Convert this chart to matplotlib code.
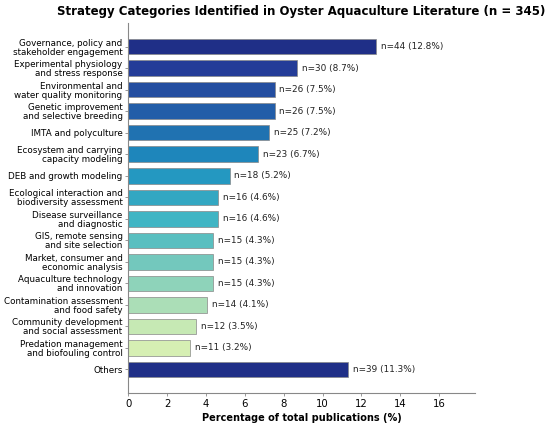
import matplotlib
matplotlib.use("Agg")
import matplotlib.pyplot as plt
import numpy as np

categories = [
    "Governance, policy and\nstakeholder engagement",
    "Experimental physiology\nand stress response",
    "Environmental and\nwater quality monitoring",
    "Genetic improvement\nand selective breeding",
    "IMTA and polyculture",
    "Ecosystem and carrying\ncapacity modeling",
    "DEB and growth modeling",
    "Ecological interaction and\nbiodiversity assessment",
    "Disease surveillance\nand diagnostic",
    "GIS, remote sensing\nand site selection",
    "Market, consumer and\neconomic analysis",
    "Aquaculture technology\nand innovation",
    "Contamination assessment\nand food safety",
    "Community development\nand social assessment",
    "Predation management\nand biofouling control",
    "Others",
]
counts = [44, 30, 26, 26, 25, 23, 18, 16, 16, 15, 15, 15, 14, 12, 11, 39]
total = 345

pct = np.array(counts) / total * 100

cmap = plt.get_cmap("YlGnBu")
colors = [cmap(v) for v in np.linspace(0.9, 0.2, len(categories) - 1)]
colors.append(cmap(0.9))

fig = plt.figure(figsize=(5.5, 4.25), dpi=100)
ax = fig.add_axes([0.233, 0.075, 0.631, 0.871])

y = np.arange(len(categories))
ax.barh(y, pct, height=0.72, color=colors, edgecolor="#888888", linewidth=0.5)
for yi, c, p in zip(y, counts, pct):
    ax.text(p + 0.25, yi, f"n={c} ({p:.1f}%)", va="center", ha="left", fontsize=6.4, color="#222222")

ax.set_yticks(y)
ax.set_yticklabels(categories, fontsize=6.3, linespacing=1.0)
ax.set_ylim(len(categories) - 1 + 1.1, -1.1)
ax.set_xlim(0, pct.max() * 1.4)
ax.set_xticks(np.arange(0, 17, 2))
ax.tick_params(axis="x", labelsize=7.3, length=2.5, width=0.6, color="#888888", pad=1.5)
ax.tick_params(axis="y", length=2.5, width=0.6, color="#888888", pad=1.5)
ax.set_xlabel("Percentage of total publications (%)", fontsize=7, fontweight="bold", labelpad=3)
ax.set_title("Strategy Categories Identified in Oyster Aquaculture Literature (n = 345)",
             fontsize=8.5, fontweight="bold", pad=6)
for s in ["top", "right"]:
    ax.spines[s].set_visible(False)
for s in ["left", "bottom"]:
    ax.spines[s].set_color("#888888")
    ax.spines[s].set_linewidth(0.8)

fig.savefig("out.png", dpi=100)
